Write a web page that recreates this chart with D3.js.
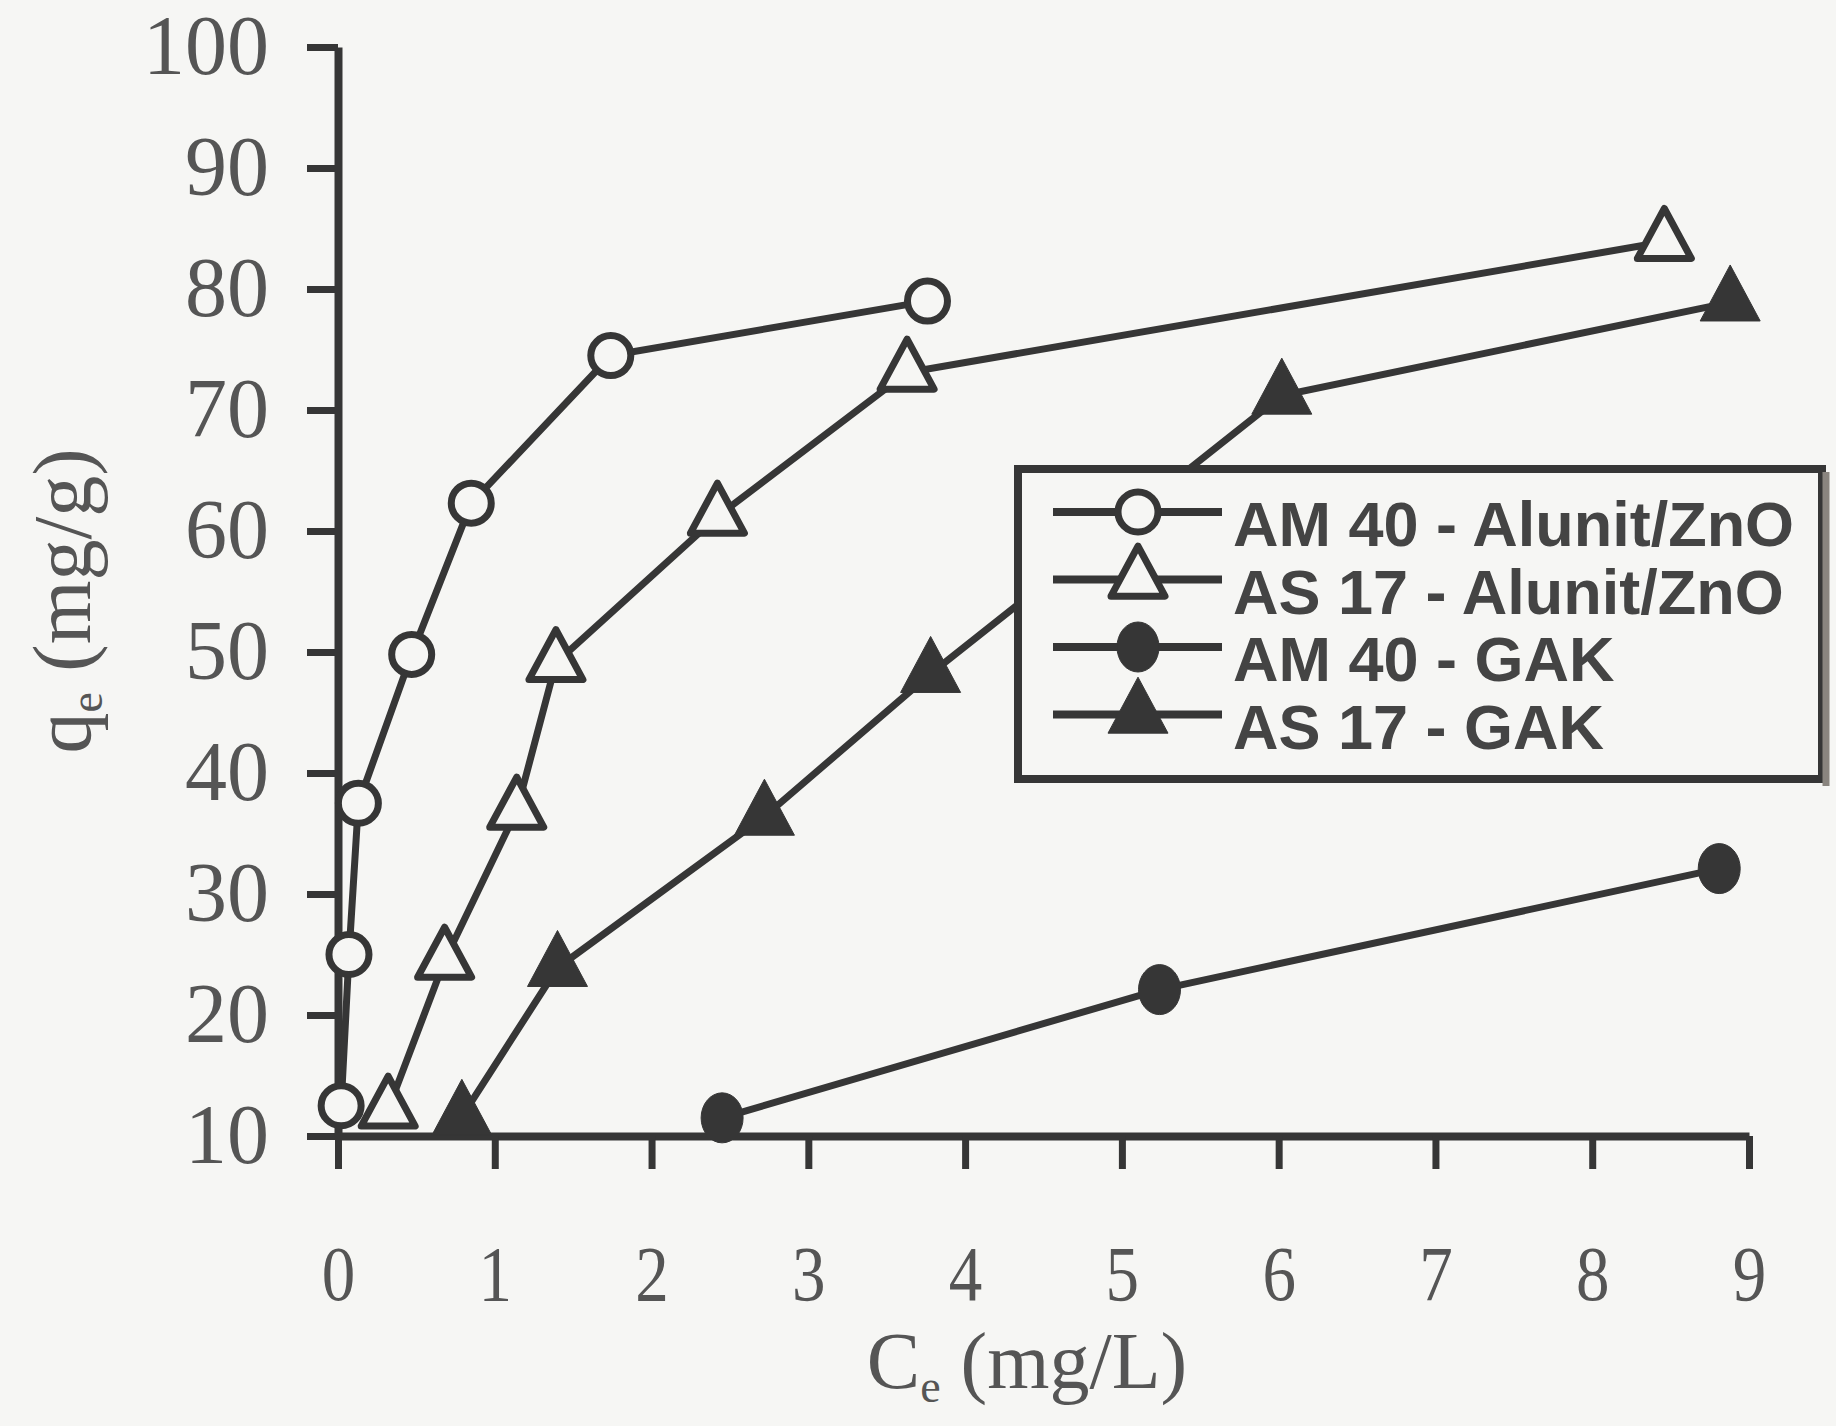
<!DOCTYPE html>
<meta charset="utf-8">
<html>
  <head>
    <script src="https://d3js.org/d3.v7.min.js"></script>
    <style>
      body {
        margin: 0;
        background: #f6f6f4;
      }
    </style>
  </head>
  <body>
    <div id="chart"></div>
    <script>
      // series: x = Ce (mg/L), y = qe (mg/g)
      const am40AlunitX = [0.02, 0.07, 0.13, 0.47, 0.85, 1.74, 3.76];
      const am40AlunitY = [12.5, 25.0, 37.5, 49.8, 62.3, 74.5, 79.0];
      const as17AlunitX = [0.32, 0.68, 1.14, 1.39, 2.42, 3.63, 8.46];
      const as17AlunitY = [12.2, 24.5, 36.9, 49.1, 61.2, 73.1, 83.9];
      const am40GakX = [2.45, 5.24, 8.81];
      const am40GakY = [11.5, 22.1, 32.1];
      const as17GakX = [0.79, 1.40, 2.72, 3.78, 6.02, 8.88];
      const as17GakY = [11.6, 23.9, 36.4, 48.2, 71.2, 78.9];

      const legendLabels = ["AM 40 - Alunit/ZnO", "AS 17 - Alunit/ZnO", "AM 40 - GAK", "AS 17 - GAK"];
      const xTicks = [0, 1, 2, 3, 4, 5, 6, 7, 8, 9];
      const yTicks = [10, 20, 30, 40, 50, 60, 70, 80, 90, 100];

      const width = 1836, height = 1426;
      const ink = "#363636";
      const textInk = "#555";
      const paper = "#f6f6f4";

      const svg = d3.select("#chart").append("svg")
        .attr("width", width)
        .attr("height", height)
        .style("display", "block")
        .style("background", paper);

      const x = d3.scaleLinear().domain([0, 9]).range([338, 1749]);
      const y = d3.scaleLinear().domain([10, 100]).range([1136, 47]);

      const zip = (xs, ys) => xs.map((v, i) => ({x: v, y: ys[i]}));
      const series = [
        {name: legendLabels[0], shape: "circle", filled: false, values: zip(am40AlunitX, am40AlunitY)},
        {name: legendLabels[1], shape: "triangle", filled: false, values: zip(as17AlunitX, as17AlunitY)},
        {name: legendLabels[2], shape: "circle", filled: true, values: zip(am40GakX, am40GakY)},
        {name: legendLabels[3], shape: "triangle", filled: true, values: zip(as17GakX, as17GakY)},
      ];

      // axes
      const yAxis = svg.append("g")
        .attr("transform", `translate(${x(0)},0)`)
        .call(d3.axisLeft(y).tickValues(yTicks).tickSize(31).tickSizeOuter(0).tickPadding(38));
      const xAxis = svg.append("g")
        .attr("transform", `translate(0,${y(10)})`)
        .call(d3.axisBottom(x).tickValues(xTicks).tickSize(33).tickSizeOuter(0).tickPadding(76));

      [yAxis, xAxis].forEach(g => {
        g.select(".domain").attr("stroke", ink).attr("stroke-width", 8);
        g.selectAll(".tick line").attr("stroke", ink).attr("stroke-width", 7);
        g.selectAll(".tick text")
          .attr("fill", textInk)
          .style("font-family", "'Liberation Serif', 'Times New Roman', serif");
      });
      yAxis.selectAll(".tick text").style("font-size", "84px");
      xAxis.selectAll(".tick text").style("font-size", "78px").attr("transform", "scale(0.86,1)");

      // axis titles
      const serif = "'Liberation Serif', 'Times New Roman', serif";
      const xTitle = svg.append("text")
        .attr("x", 1027)
        .attr("y", 1388)
        .attr("text-anchor", "middle")
        .attr("fill", textInk)
        .style("font-family", serif)
        .style("font-size", "80px");
      xTitle.append("tspan").text("C");
      xTitle.append("tspan").attr("dy", 14).style("font-size", "46px").text("e");
      xTitle.append("tspan").attr("dy", -14).text(" (mg/L)");

      const yTitle = svg.append("text")
        .attr("transform", "translate(90,601) rotate(-90)")
        .attr("text-anchor", "middle")
        .attr("fill", textInk)
        .style("font-family", serif)
        .style("font-size", "82px");
      yTitle.append("tspan").text("q");
      yTitle.append("tspan").attr("dy", 12).style("font-size", "46px").text("e");
      yTitle.append("tspan").attr("dy", -12).text(" (mg/g)");

      // markers
      function triPath(w, h) {
        return `M0,${-2 * h / 3}L${w / 2},${h / 3}L${-w / 2},${h / 3}Z`;
      }
      function drawMarker(g, s, cx, cy) {
        let m;
        if (s.shape === "circle" && s.filled) {
          m = g.append("ellipse").attr("cx", cx).attr("cy", cy).attr("rx", 21).attr("ry", 25);
        } else if (s.shape === "circle") {
          m = g.append("circle").attr("cx", cx).attr("cy", cy).attr("r", 20);
        } else {
          m = g.append("path").attr("transform", `translate(${cx},${cy})`)
            .attr("d", s.filled ? triPath(60, 56) : triPath(54, 50));
        }
        m.attr("fill", s.filled ? ink : paper)
          .attr("stroke", ink)
          .attr("stroke-width", s.filled ? 1 : 7)
          .attr("stroke-linejoin", "round");
      }

      const line = d3.line().x(d => x(d.x)).y(d => y(d.y));
      const plot = svg.append("g");
      series.forEach(s => {
        plot.append("path")
          .datum(s.values)
          .attr("d", line)
          .attr("fill", "none")
          .attr("stroke", ink)
          .attr("stroke-width", 7);
      });
      series.forEach(s => {
        s.values.forEach(d => drawMarker(plot, s, x(d.x), y(d.y)));
      });

      // legend
      const legend = svg.append("g");
      legend.append("rect")
        .attr("x", 1018).attr("y", 469)
        .attr("width", 804).attr("height", 310)
        .attr("fill", paper)
        .attr("stroke", ink)
        .attr("stroke-width", 8);
      legend.append("line")
        .attr("x1", 1826).attr("x2", 1826).attr("y1", 472).attr("y2", 786)
        .attr("stroke", "#8a857f").attr("stroke-width", 7);

      series.forEach((s, i) => {
        const ly = 512 + i * 67.5;
        legend.append("line")
          .attr("x1", 1053).attr("x2", 1222)
          .attr("y1", ly).attr("y2", ly)
          .attr("stroke", ink).attr("stroke-width", 8);
        drawMarker(legend, s, 1138, ly);
        legend.append("text")
          .attr("x", 1233)
          .attr("y", ly + 34)
          .attr("fill", "#444")
          .style("font-family", "'Liberation Sans', Arial, sans-serif")
          .style("font-weight", "bold")
          .style("font-size", "63px")
          .text(s.name);
      });
    </script>
  </body>
</html>
